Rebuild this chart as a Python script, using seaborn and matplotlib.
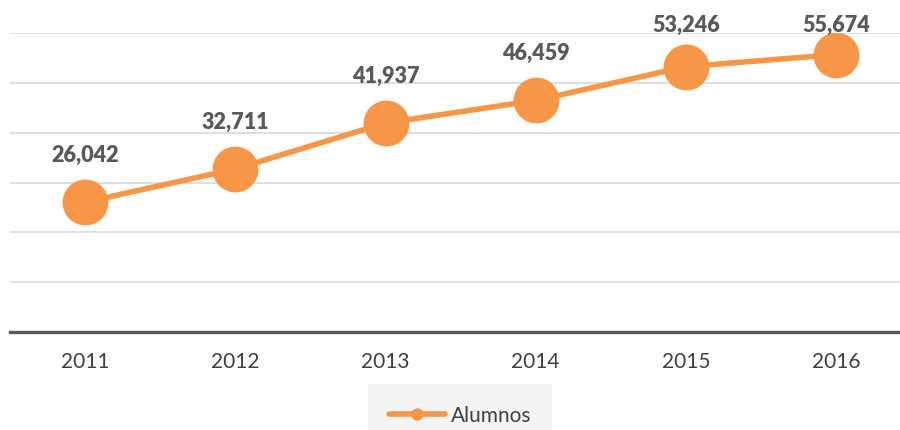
import matplotlib
matplotlib.use('Agg')
import matplotlib.pyplot as plt
import seaborn as sns
import pandas as pd

# Data
years = ['2011', '2012', '2013', '2014', '2015', '2016']
alumnos = [26042, 32711, 41937, 46459, 53246, 55674]
series_name = 'Alumnos'

ORANGE = '#F79646'
LABEL_GRAY = '#595959'
TICK_GRAY = '#404040'

sns.set_theme(style='white')
plt.rcParams['font.family'] = ['Lato', 'DejaVu Sans']

df = pd.DataFrame({'year': years, 'alumnos': alumnos})

fig = plt.figure(figsize=(9, 4.31), dpi=100)
# axes slightly wider than the figure, like the cropped original
ax = fig.add_axes([10 / 900, 98 / 431, 901.2 / 900, 299 / 431])

sns.lineplot(data=df, x='year', y='alumnos', ax=ax, color=ORANGE,
             linewidth=4, marker='o', markersize=33, markeredgewidth=0,
             label=series_name, zorder=3)

ax.set_xlim(-0.5, 5.5)
ax.set_ylim(0, 60000)
ax.set_yticks(range(0, 60001, 10000))
ax.yaxis.grid(True, color='#d9d9d9', linewidth=1.2)
ax.set_yticklabels([])
ax.set_xlabel('')
ax.set_ylabel('')
ax.tick_params(axis='x', length=0, pad=14, labelsize=15, labelcolor=TICK_GRAY)
ax.tick_params(axis='y', length=0)
for side in ['left', 'right', 'top']:
    ax.spines[side].set_visible(False)
ax.spines['bottom'].set_color('#595959')
ax.spines['bottom'].set_linewidth(2.4)
ax.spines['bottom'].set_zorder(4)

# value labels above the points, kept inside the top of the chart
px = 60000 / 299
for i, v in enumerate(alumnos):
    ly = min(v + 48 * px, 60000 + 9 * px)
    ax.text(i, ly, f'{v:,}', ha='center', va='center', fontsize=15.5,
            fontweight='heavy', color=LABEL_GRAY, clip_on=False)

ax.get_legend().remove()
handles, labels = ax.get_legend_handles_labels()
leg = fig.legend(handles, labels, loc='center', bbox_to_anchor=(460 / 900, 1 - 416 / 431),
                 frameon=True, fontsize=15, markerscale=0.27, handlelength=2.7,
                 handletextpad=0.25, borderpad=1.0, fancybox=False)
leg.get_frame().set_facecolor('#f2f2f2')
leg.get_frame().set_edgecolor('none')
for t in leg.get_texts():
    t.set_color(TICK_GRAY)

fig.savefig('out.png', dpi=100)
